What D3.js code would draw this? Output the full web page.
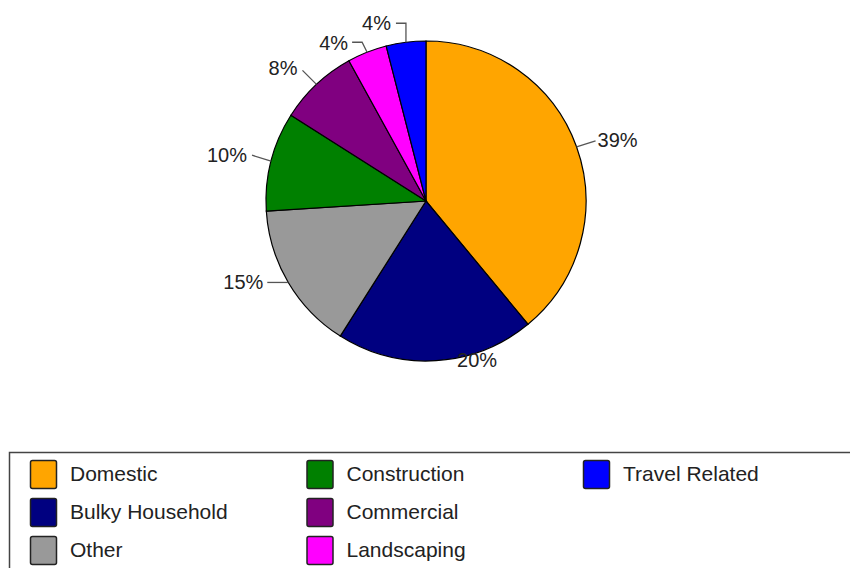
<!DOCTYPE html>
<html>
<head>
<meta charset="utf-8">
<script src="https://cdn.jsdelivr.net/npm/d3@7"></script>
<style>
  body { margin: 0; background: #fff; }
  svg { display: block; font-family: "Liberation Sans", Arial, sans-serif; }
</style>
</head>
<body>
<div id="chart"></div>
<script>
// donnees du graphique
const categories = ["Domestic", "Bulky Household", "Other", "Construction", "Commercial", "Landscaping", "Travel Related"];
const shares = [39, 20, 15, 10, 8, 4, 4];
const colors = ["#ffa500", "#000080", "#999999", "#008000", "#800080", "#ff00ff", "#0000ff"];
// ordre du legende (colonnes de 3)
const legendOrder = ["Domestic", "Bulky Household", "Other", "Construction", "Commercial", "Landscaping", "Travel Related"];

const width = 850, height = 568;
const cx = 426, cy = 201, radius = 160;

const data = categories.map((c, i) => ({name: c, value: shares[i], color: colors[i]}));

const svg = d3.select("#chart")
    .append("svg")
    .attr("width", width)
    .attr("height", height);

const pie = d3.pie()
    .sort(null)
    .value(d => d.value);

const arc = d3.arc()
    .innerRadius(0)
    .outerRadius(radius);

const arcs = pie(data);

const g = svg.append("g")
    .attr("transform", `translate(${cx},${cy})`);

g.selectAll("path")
    .data(arcs)
    .join("path")
    .attr("d", arc)
    .attr("fill", d => d.data.color)
    .attr("stroke", "#000")
    .attr("stroke-width", 1.2);

// placement des etiquettes (decalages depuis le bord de la part)
const labelLayout = {
    "Domestic":        {leader: [[19, -6]], text: [21, -7], anchor: "start"},
    "Bulky Household": {leader: [], text: [21, -1], anchor: "start"},
    "Other":           {leader: [[-21, 0]], text: [-25, 0], anchor: "end"},
    "Construction":    {leader: [[-19, -6]], text: [-24, -6], anchor: "end"},
    "Commercial":      {leader: [[-14, -14]], text: [-19, -16], anchor: "end"},
    "Landscaping":     {leader: [[-5, -10], [-15, -10]], text: [-19, -9], anchor: "end"},
    "Travel Related":  {leader: [[0, -19], [-10, -19]], text: [-15, -19], anchor: "end"}
};

const edgePoint = d => {
    const a = (d.startAngle + d.endAngle) / 2;
    return [radius * Math.sin(a), -radius * Math.cos(a)];
};

const line = d3.line();

arcs.forEach(d => {
    const lay = labelLayout[d.data.name];
    const p = edgePoint(d);
    if (lay.leader.length) {
        const pts = [p].concat(lay.leader.map(o => [p[0] + o[0], p[1] + o[1]]));
        g.append("path")
            .attr("d", line(pts))
            .attr("fill", "none")
            .attr("stroke", "#555")
            .attr("stroke-width", 1.3);
    }
    g.append("text")
        .attr("x", p[0] + lay.text[0])
        .attr("y", p[1] + lay.text[1])
        .attr("dy", "0.35em")
        .attr("text-anchor", lay.anchor)
        .style("font-size", "20px")
        .style("fill", "#222")
        .text(d.data.value + "%");
});

// legende
svg.append("rect")
    .attr("x", 9.5)
    .attr("y", 452.5)
    .attr("width", 860)
    .attr("height", 140)
    .attr("fill", "#fff")
    .attr("stroke", "#444")
    .attr("stroke-width", 1.5);

const colX = d3.scalePoint().domain([0, 1, 2]).range([30, 583]);
const rowY = d3.scalePoint().domain([0, 1, 2]).range([460, 536]);

const items = svg.selectAll("g.legend")
    .data(legendOrder.map(n => data.find(d => d.name === n)))
    .join("g")
    .attr("class", "legend")
    .attr("transform", (d, i) => `translate(${colX(Math.floor(i / 3))},${rowY(i % 3)})`);

items.append("rect")
    .attr("x", 0.5)
    .attr("y", 0.5)
    .attr("width", 26)
    .attr("height", 28)
    .attr("rx", 2)
    .attr("fill", d => d.color)
    .attr("stroke", "#222")
    .attr("stroke-width", 1.5);

items.append("text")
    .attr("x", 40)
    .attr("y", 14)
    .attr("dy", "0.35em")
    .style("font-size", "21px")
    .style("fill", "#222")
    .text(d => d.name);
</script>
</body>
</html>
